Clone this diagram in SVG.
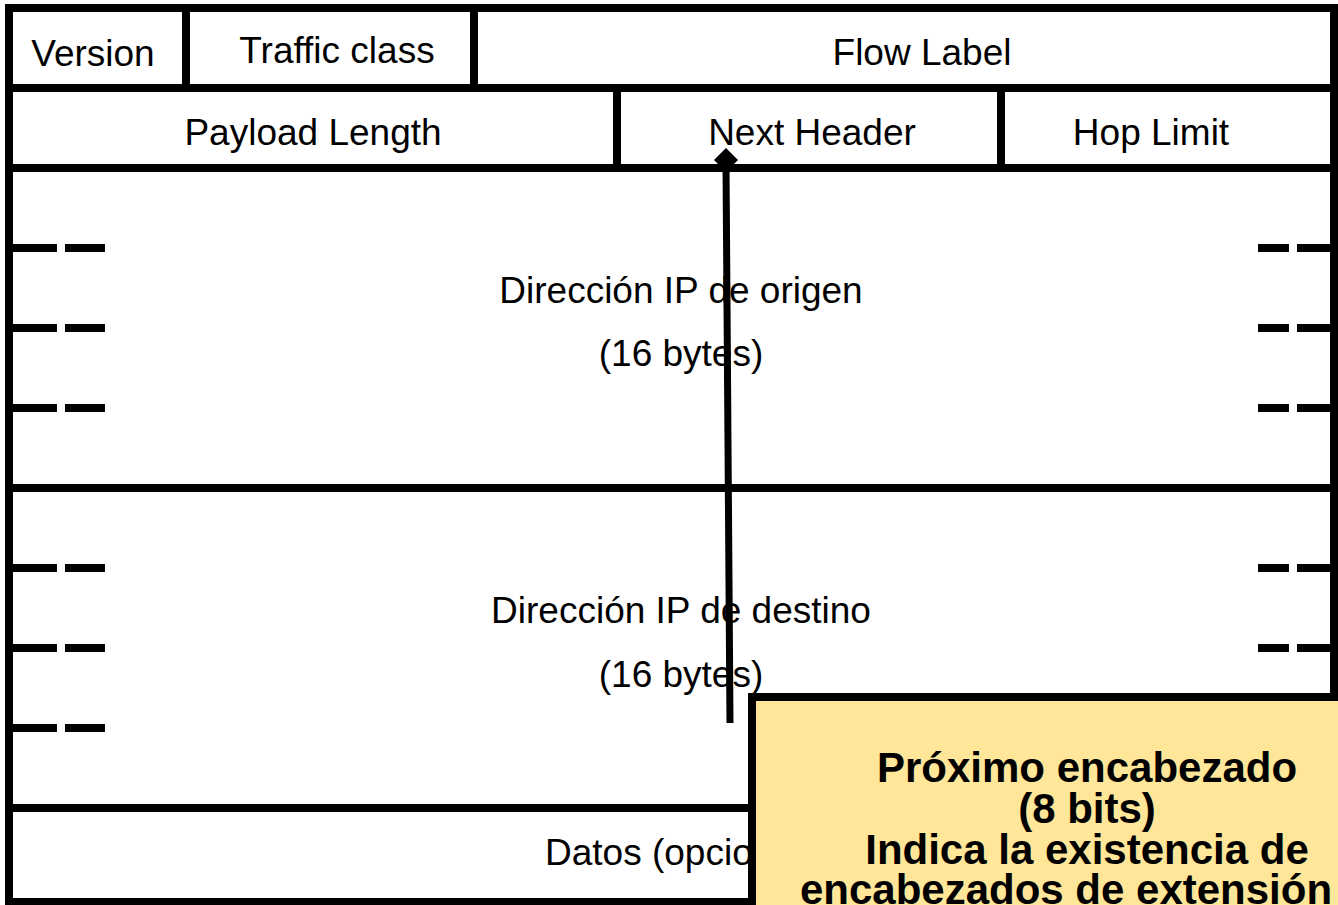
<svg xmlns="http://www.w3.org/2000/svg" width="1338" height="905" viewBox="0 0 1338 905">
<style>
.t{font-family:"Liberation Sans",Arial,sans-serif;font-size:37px;fill:#000;text-anchor:middle}
.b{font-family:"Liberation Sans",Arial,sans-serif;font-size:42px;font-weight:bold;fill:#000;text-anchor:middle}
.ln{stroke:#000;stroke-width:8;fill:none}
.d{fill:#000}
</style>
<rect width="1338" height="905" fill="#fff"/>
<g id="frame">
<rect class="ln" x="9" y="8" width="1325" height="894"/>
<line class="ln" x1="9" y1="88" x2="1334" y2="88"/>
<line class="ln" x1="9" y1="168" x2="1334" y2="168"/>
<line class="ln" x1="9" y1="488" x2="1334" y2="488"/>
<line class="ln" x1="9" y1="808" x2="1334" y2="808"/>
</g>
<g id="version"><line class="ln" x1="186" y1="8" x2="186" y2="88"/><text class="t" x="93" y="66">Version</text></g>
<g id="traffic-class"><line class="ln" x1="474" y1="8" x2="474" y2="88"/><text class="t" x="337" y="63">Traffic class</text></g>
<g id="flow-label"><text class="t" x="922" y="65">Flow Label</text></g>
<g id="payload-length"><line class="ln" x1="617" y1="88" x2="617" y2="168"/><text class="t" x="313" y="145">Payload Length</text></g>
<g id="next-header"><line class="ln" x1="1001" y1="88" x2="1001" y2="168"/><text class="t" x="812" y="145">Next Header</text></g>
<g id="hop-limit"><text class="t" x="1151" y="145">Hop Limit</text></g>
<g id="source">
<rect class="d" x="9" y="244" width="48" height="8"/><rect class="d" x="65" y="244" width="40" height="8"/>
<rect class="d" x="9" y="324" width="48" height="8"/><rect class="d" x="65" y="324" width="40" height="8"/>
<rect class="d" x="9" y="404" width="48" height="8"/><rect class="d" x="65" y="404" width="40" height="8"/>
<rect class="d" x="1258" y="244" width="31" height="8"/><rect class="d" x="1297" y="244" width="37" height="8"/>
<rect class="d" x="1258" y="324" width="31" height="8"/><rect class="d" x="1297" y="324" width="37" height="8"/>
<rect class="d" x="1258" y="404" width="31" height="8"/><rect class="d" x="1297" y="404" width="37" height="8"/>
<text class="t" x="681" y="303">Dirección IP de origen</text>
<text class="t" x="681" y="366">(16 bytes)</text>
</g>
<g id="destination">
<rect class="d" x="9" y="564" width="48" height="8"/><rect class="d" x="65" y="564" width="40" height="8"/>
<rect class="d" x="9" y="644" width="48" height="8"/><rect class="d" x="65" y="644" width="40" height="8"/>
<rect class="d" x="9" y="724" width="48" height="8"/><rect class="d" x="65" y="724" width="40" height="8"/>
<rect class="d" x="1258" y="564" width="31" height="8"/><rect class="d" x="1297" y="564" width="37" height="8"/>
<rect class="d" x="1258" y="644" width="31" height="8"/><rect class="d" x="1297" y="644" width="37" height="8"/>
<text class="t" x="681" y="623">Dirección IP de destino</text>
<text class="t" x="681" y="687">(16 bytes)</text>
</g>
<g id="data"><text class="t" x="545" y="865" style="text-anchor:start">Datos (opcional)</text></g>
<g id="connectors">
<line x1="730" y1="723" x2="726" y2="164" stroke="#000" stroke-width="7"/>
<polygon points="726,148 738,160 726,172 714,160" fill="#000"/>
</g>
<g id="callout">
<rect x="752" y="697" width="620" height="240" fill="#FFE699" stroke="#000" stroke-width="8"/>
<text class="b" x="1087" y="782">Próximo encabezado</text>
<text class="b" x="1087" y="823">(8 bits)</text>
<text class="b" x="1087" y="864">Indica la existencia de</text>
<text class="b" x="1066" y="904">encabezados de extensión</text>
</g>
</svg>
